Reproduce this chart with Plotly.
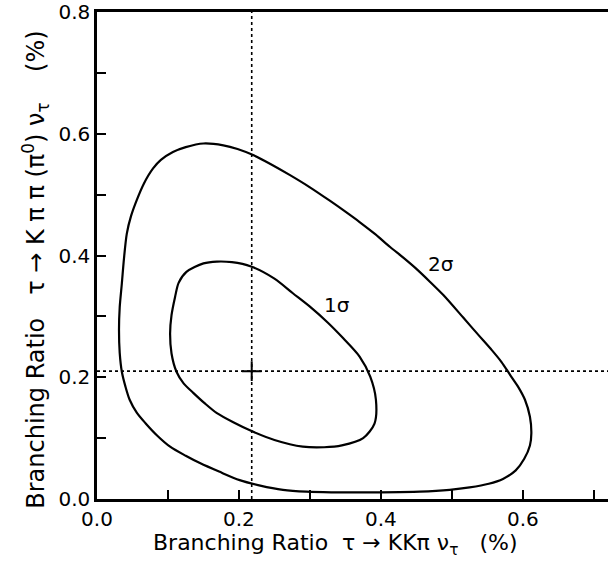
import plotly.graph_objects as go

# 2-sigma contour (x, y) in %
outer_x = [0.150, 0.125, 0.107, 0.090, 0.079, 0.066, 0.056, 0.048, 0.042, 0.038, 0.035, 0.032,
           0.031, 0.032, 0.035, 0.040, 0.046, 0.056, 0.068, 0.085, 0.103, 0.125, 0.145, 0.172,
           0.201, 0.230, 0.262, 0.295, 0.330, 0.400, 0.455, 0.497, 0.525, 0.552, 0.572, 0.590,
           0.602, 0.610, 0.612, 0.610, 0.603, 0.593, 0.582, 0.570, 0.556, 0.537, 0.516, 0.488,
           0.469, 0.450, 0.432, 0.413, 0.392, 0.370, 0.350, 0.328, 0.300, 0.272, 0.245, 0.220,
           0.198, 0.178, 0.150]
outer_y = [0.584, 0.578, 0.570, 0.557, 0.543, 0.518, 0.491, 0.465, 0.436, 0.395, 0.354, 0.315,
           0.278, 0.240, 0.209, 0.185, 0.163, 0.142, 0.125, 0.104, 0.086, 0.071, 0.059, 0.045,
           0.031, 0.022, 0.015, 0.012, 0.011, 0.011, 0.012, 0.015, 0.019, 0.025, 0.033, 0.047,
           0.066, 0.088, 0.108, 0.135, 0.163, 0.185, 0.204, 0.225, 0.245, 0.270, 0.298, 0.335,
           0.357, 0.378, 0.396, 0.414, 0.435, 0.455, 0.472, 0.490, 0.512, 0.532, 0.550, 0.565,
           0.575, 0.581, 0.584]

# 1-sigma contour
inner_x = [0.169, 0.150, 0.126, 0.115, 0.110, 0.105, 0.103, 0.105, 0.112, 0.122, 0.136, 0.152,
           0.169, 0.192, 0.217, 0.250, 0.290, 0.320, 0.345, 0.375, 0.391, 0.393, 0.385, 0.370,
           0.347, 0.325, 0.300, 0.276, 0.250, 0.217, 0.190, 0.169]
inner_y = [0.390, 0.387, 0.373, 0.355, 0.332, 0.302, 0.272, 0.239, 0.209, 0.190, 0.174, 0.157,
           0.141, 0.126, 0.112, 0.097, 0.086, 0.085, 0.088, 0.100, 0.124, 0.163, 0.201, 0.234,
           0.264, 0.290, 0.316, 0.338, 0.362, 0.382, 0.389, 0.390]

best_x = [0.218]
best_y = [0.210]

x_range = [0.0, 0.72]
y_range = [0.0, 0.80]

contour_labels = ["1σ", "2σ"]
label_x = [0.338, 0.484]
label_y = [0.318, 0.386]

fig = go.Figure()

# dotted guide lines through best fit
fig.add_trace(go.Scatter(x=[best_x[0], best_x[0]], y=y_range, mode="lines",
                         line=dict(color="black", width=1.6, dash="dot"), hoverinfo="skip"))
fig.add_trace(go.Scatter(x=x_range, y=[best_y[0], best_y[0]], mode="lines",
                         line=dict(color="black", width=1.6, dash="dot"), hoverinfo="skip"))

fig.add_trace(go.Scatter(x=outer_x, y=outer_y, mode="lines",
                         line=dict(color="black", width=2.2, shape="spline", smoothing=0.8)))
fig.add_trace(go.Scatter(x=inner_x, y=inner_y, mode="lines",
                         line=dict(color="black", width=2.2, shape="spline", smoothing=0.8)))

fig.add_trace(go.Scatter(x=best_x, y=best_y, mode="markers",
                         marker=dict(symbol="cross-thin", size=14,
                                     line=dict(color="black", width=2))))

for t, lx, ly in zip(contour_labels, label_x, label_y):
    fig.add_annotation(x=lx, y=ly, xref="x", yref="y", text=t, showarrow=False,
                       font=dict(family="DejaVu Sans", size=20, color="black"))

fig.add_annotation(x=0.466, y=-0.094, xref="paper", yref="paper",
                   xanchor="center", yanchor="middle",
                   text="Branching Ratio&nbsp;&nbsp;τ → KKπ ν<sub>τ</sub>&nbsp;&nbsp;&nbsp;(%)",
                   showarrow=False,
                   font=dict(family="DejaVu Sans", size=22, color="black"))
fig.add_annotation(x=-0.122, y=0.47, xref="paper", yref="paper", textangle=-90,
                   xanchor="center", yanchor="middle",
                   text="Branching Ratio&nbsp;&nbsp;&nbsp;τ → K π π (π<sup>0</sup>) ν<sub>τ</sub>&nbsp;&nbsp;&nbsp;&nbsp;(%)",
                   showarrow=False,
                   font=dict(family="DejaVu Sans", size=24, color="black"))

axis_common = dict(showgrid=False, zeroline=False, showline=True, linecolor="black",
                   linewidth=2.5, ticks="inside", ticklen=9, tickwidth=2, tickcolor="black",
                   dtick=0.2, tick0=0, tickformat=".1f",
                   tickfont=dict(family="DejaVu Sans", size=20, color="black"),
                   minor=dict(dtick=0.1, ticks="inside", ticklen=9, tickwidth=2,
                              tickcolor="black", showgrid=False))

fig.update_xaxes(range=x_range, mirror=True, **axis_common)
fig.update_yaxes(range=y_range, mirror=False, **axis_common)

fig.update_layout(width=608, height=565, showlegend=False,
                  margin=dict(l=97, r=0, t=12, b=66),
                  plot_bgcolor="white", paper_bgcolor="white")

fig.write_html("out.html", config={"displayModeBar": False})
